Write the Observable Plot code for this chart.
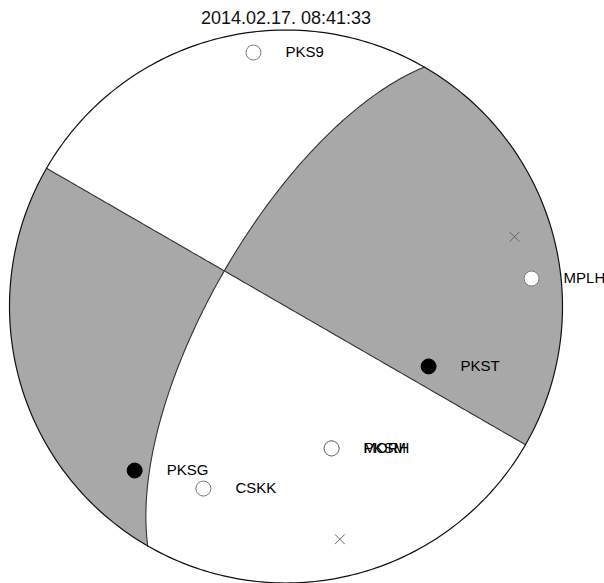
<!DOCTYPE html>
<html><head><meta charset="utf-8">
<script src="https://cdn.jsdelivr.net/npm/d3@7"></script>
<script src="https://cdn.jsdelivr.net/npm/@observablehq/plot@0.6"></script>
<style>body{margin:0;background:#fff;font-family:"Liberation Sans",Arial,sans-serif}</style>
</head><body><div id="chart"></div>
<script>
// ---- data ----
const title = "2014.02.17. 08:41:33";
// focal mechanism (nodal plane 1): strike, dip, rake in degrees
const strike = 210, dip = 69, rake = 0;
// stations: name, azimuth (deg), take-off angle (deg), first-motion polarity
const stationNames = ["PKS9", "MPLH", "PKST", "PKSG", "CSKK", "PKSM", "MORH"];
const stationAzimuths = [352.7, 83.5, 112.8, 222.7, 204.4, 162.2, 162.2];
const stationTakeoffs = [81.8, 78.4, 46.6, 69.6, 61.5, 44.8, 44.8];
const stationPolarities = ["-", "-", "+", "+", "-", "-", "-"];

// ---- geometry (lower hemisphere, equal-area) ----
const rad = Math.PI / 180;
const dot = (a, b) => a[0]*b[0] + a[1]*b[1] + a[2]*b[2];
const cross = (a, b) => [a[1]*b[2]-a[2]*b[1], a[2]*b[0]-a[0]*b[2], a[0]*b[1]-a[1]*b[0]];
const unit = a => { const l = Math.hypot(...a); return a.map(c => c / l); };
const f = strike*rad, dl = dip*rad, lr = rake*rad;
// vectors as [North, East, Down]
const n = [-Math.sin(dl)*Math.sin(f), Math.sin(dl)*Math.cos(f), -Math.cos(dl)];
const d = [Math.cos(lr)*Math.cos(f) + Math.sin(lr)*Math.cos(dl)*Math.sin(f),
           Math.cos(lr)*Math.sin(f) - Math.sin(lr)*Math.cos(dl)*Math.cos(f),
           -Math.sin(lr)*Math.sin(dl)];
function proj(v) {
  let [N, E, D] = v;
  if (D < 0) { N = -N; E = -E; D = -D; }
  const h = Math.hypot(N, E), r = Math.sqrt(Math.max(0, 1 - D));
  return h < 1e-12 ? [0, 0] : [r*E/h, r*N/h];
}
function basis(normal) {
  const s = unit(cross(normal, [0, 0, 1]));
  let u = cross(normal, s);
  if (u[2] < 0) u = u.map(c => -c);
  return {s, u};
}
const planes = [basis(n), basis(d)];
let B = unit(cross(n, d)); if (B[2] < 0) B = B.map(c => -c);
planes.forEach(p => { p.tB = Math.atan2(dot(B, p.u), dot(B, p.s)); });
const cp = (p, t) => [0,1,2].map(i => p.s[i]*Math.cos(t) + p.u[i]*Math.sin(t));

const nodal = [];
planes.forEach((p, k) => d3.range(0, 181).forEach(i => {
  const [x, y] = proj(cp(p, i*Math.PI/180)); nodal.push({x, y, k});
}));
const circle = d3.range(0, 361).map(i => {
  const a = i*rad; const [x, y] = proj([Math.cos(a), Math.sin(a), 0]); return {x, y};
});

// regions between nodal planes
const ends = [];
planes.forEach((p, k) => {
  [0, Math.PI].forEach(t => {
    const v = cp(p, t); let az = Math.atan2(v[1], v[0]); if (az < 0) az += 2*Math.PI;
    ends.push({k, t, az});
  });
});
ends.sort((a, b) => a.az - b.az);
const regions = [];
for (let i = 0; i < 4; i++) {
  const a = ends[i], b = ends[(i+1) % 4];
  let az0 = a.az, az1 = b.az; if (az1 <= az0) az1 += 2*Math.PI;
  const m = (az0 + az1) / 2, h = [Math.cos(m), Math.sin(m), 0];
  const comp = dot(n, h) * dot(d, h) > 0;
  const pts = [];
  const N = 120;
  for (let j = 0; j <= N; j++) { const az = az0 + (az1 - az0)*j/N; pts.push(proj([Math.cos(az), Math.sin(az), 0])); }
  const pb = planes[b.k], pa = planes[a.k];
  for (let j = 0; j <= N; j++) pts.push(proj(cp(pb, b.t + (pb.tB - b.t)*j/N)));
  for (let j = 0; j <= N; j++) pts.push(proj(cp(pa, pa.tB + (a.t - pa.tB)*j/N)));
  pts.forEach(([x, y]) => regions.push({x, y, id: i, comp}));
}
const T = proj(unit(n.map((c, i) => c + d[i]))), P = proj(unit(n.map((c, i) => c - d[i])));
const axesPts = [{x: T[0], y: T[1]}, {x: P[0], y: P[1]}];

const stations = stationNames.map((name, i) => {
  const r = Math.SQRT2 * Math.sin(stationTakeoffs[i]*rad/2), az = stationAzimuths[i]*rad;
  return {name, x: r*Math.sin(az), y: r*Math.cos(az), pol: stationPolarities[i]};
});

const chart = Plot.plot({
  width: 604, height: 583,
  marginLeft: 9, marginRight: 42, marginTop: 29.5, marginBottom: 0.5,
  x: {domain: [-1, 1], axis: null},
  y: {domain: [-1, 1], axis: null},
  style: {fontFamily: '"Liberation Sans", Arial, sans-serif', background: "white", overflow: "visible"},
  marks: [
    Plot.line(regions.filter(r => r.comp), {x: "x", y: "y", z: "id", fill: "#a8a8a8", stroke: "none", curve: "linear"}),
    Plot.line(nodal, {x: "x", y: "y", z: "k", stroke: "#333", strokeWidth: 1.1}),
    Plot.line(circle, {x: "x", y: "y", stroke: "#111", strokeWidth: 1.2}),
    Plot.dot(axesPts, {x: "x", y: "y", symbol: "times", r: 4.5, stroke: "#666", strokeWidth: 1}),
    Plot.dot(stations.filter(s => s.pol === "-"), {x: "x", y: "y", r: 7.5, fill: "white", stroke: "#777", strokeWidth: 1}),
    Plot.dot(stations.filter(s => s.pol === "+"), {x: "x", y: "y", r: 7.5, fill: "black", stroke: "black", strokeWidth: 1}),
    Plot.text(stations, {x: "x", y: "y", text: "name", dx: 32, textAnchor: "start", fontSize: 15, fill: "black"}),
    Plot.text([title], {frameAnchor: "top", lineAnchor: "middle", dy: -11.5, fontSize: 18, fill: "#111"})
  ]
});
document.getElementById("chart").appendChild(chart);
</script>
</body></html>
